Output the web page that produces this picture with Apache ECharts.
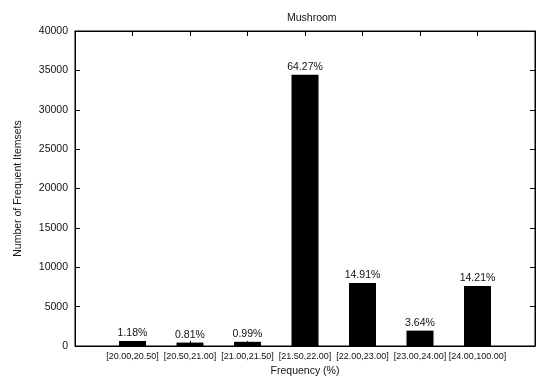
<!DOCTYPE html>
<html>
<head>
<meta charset="utf-8">
<script src="https://cdn.jsdelivr.net/npm/echarts@6/dist/echarts.min.js"></script>
<style>html,body{margin:0;padding:0;background:#fff;}#c{width:538px;height:382px;}</style>
</head>
<body>
<div id="c"></div>
<script>
var categories = ['[20.00,20.50]', '[20.50,21.00]', '[21.00,21.50]', '[21.50,22.00]', '[22.00,23.00]', '[23.00,24.00]', '[24.00,100.00]'];
var counts = [632, 434, 531, 34440, 7990, 1951, 7615];
var percents = ['1.18%', '0.81%', '0.99%', '64.27%', '14.91%', '3.64%', '14.21%'];
var yTicks = [0, 5000, 10000, 15000, 20000, 25000, 30000, 35000, 40000];

var FONT = 'Liberation Sans, Arial, sans-serif';
var chart = echarts.init(document.getElementById('c'), null, {renderer: 'canvas'});
var axisLineStyle = {color: '#000', width: 1};
function line() { return {show: true, onZero: false, lineStyle: axisLineStyle}; }
function tick() { return {show: true, inside: true, length: 5, lineStyle: axisLineStyle}; }
chart.setOption({
  animation: false,
  backgroundColor: '#fff',
  title: {
    text: 'Mushroom', left: 282, top: 8,
    textStyle: {fontFamily: FONT, fontSize: 10.5, fontWeight: 'normal', color: '#111'}
  },
  grid: {left: 75, right: 2, top: 31, bottom: 34, containLabel: false,
    show: true, borderColor: '#000', borderWidth: 1, backgroundColor: 'transparent'},
  xAxis: [{
    type: 'value', min: 0, max: categories.length + 1, interval: 1, position: 'bottom',
    name: 'Frequency (%)', nameLocation: 'middle', nameGap: 20,
    nameTextStyle: {fontFamily: FONT, fontSize: 10.5, color: '#111'},
    axisLine: line(), axisTick: tick(),
    axisLabel: {
      fontFamily: FONT, fontSize: 9, color: '#111', margin: 6,
      formatter: function (v) { return categories[v - 1] || ''; }
    },
    splitLine: {show: false}
  }, {
    type: 'value', min: 0, max: categories.length + 1, interval: 1, position: 'top',
    axisLine: line(), axisTick: tick(),
    axisLabel: {show: false}, splitLine: {show: false}
  }],
  yAxis: [{
    type: 'value', min: yTicks[0], max: yTicks[yTicks.length - 1], interval: 5000, position: 'left',
    name: 'Number of Frequent Itemsets', nameLocation: 'middle', nameGap: 51,
    nameTextStyle: {fontFamily: FONT, fontSize: 10.5, color: '#111'},
    axisLine: line(), axisTick: tick(),
    axisLabel: {fontFamily: FONT, fontSize: 10.5, color: '#111', margin: 7,
      formatter: function (v) { return String(v); }},
    splitLine: {show: false}
  }, {
    type: 'value', min: yTicks[0], max: yTicks[yTicks.length - 1], interval: 5000, position: 'right',
    axisLine: line(), axisTick: tick(),
    axisLabel: {show: false}, splitLine: {show: false}
  }],
  series: [{
    type: 'bar', xAxisIndex: 0, yAxisIndex: 0,
    barWidth: 27,
    itemStyle: {color: '#000'},
    data: counts.map(function (v, i) { return [i + 1, v]; }),
    label: {
      show: true, position: 'top', distance: 2,
      fontFamily: FONT, fontSize: 10.5, color: '#111',
      formatter: function (p) { return percents[p.dataIndex]; }
    }
  }, {
    type: 'line', xAxisIndex: 1, yAxisIndex: 1, data: [], silent: true
  }]
});
</script>
</body>
</html>
